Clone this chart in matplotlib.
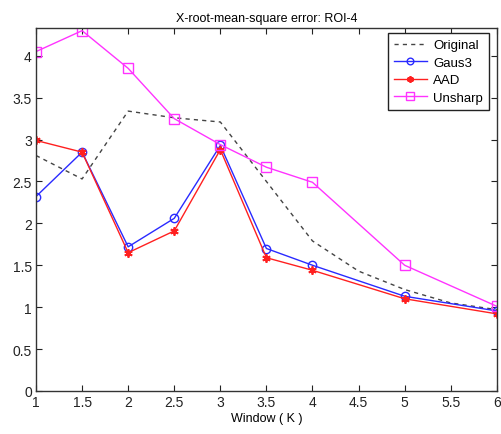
import numpy as np
import matplotlib.pyplot as plt

plt.rcParams['font.family'] = ['Liberation Sans', 'DejaVu Sans']

# 窓サイズ K
k_orig = [1, 1.5, 2, 2.5, 3, 3.5, 4, 4.5, 5, 5.5, 6]
k = [1, 1.5, 2, 2.5, 3, 3.5, 4, 5, 6]

original = [2.81, 2.53, 3.34, 3.26, 3.21, 2.50, 1.79, 1.43, 1.21, 1.05, 0.97]
gaus3 = [2.32, 2.85, 1.72, 2.06, 2.93, 1.70, 1.50, 1.13, 0.955]
aad = [2.99, 2.85, 1.65, 1.91, 2.88, 1.59, 1.44, 1.10, 0.92]
unsharp = [4.05, 4.30, 3.85, 3.25, 2.94, 2.67, 2.49, 1.50, 1.01]

fig = plt.figure(figsize=(5.02, 4.35), dpi=100)
ax = fig.add_axes([0.0717, 0.099, 0.918, 0.834])

ax.plot(k_orig, original, color='#444444', linestyle=(0, (3, 3)), lw=1, label='Original')
ax.plot(k, gaus3, color='#2a2aff', lw=1, marker='o', ms=6, mfc='none', mew=1, label='Gaus3')
ax.plot(k, aad, color='#ff2020', lw=1, marker=(6, 2, 0), ms=6, mew=1.3, label='AAD')
ax.plot(k, unsharp, color='#ff33ff', lw=1, marker='s', ms=6.5, mfc='none', mew=1, label='Unsharp')

ax.set_xlim(1, 6)
ax.set_ylim(0, 4.33)
ax.set_xticks(np.arange(1, 6.01, 0.5))
ax.set_xticklabels(['1', '1.5', '2', '2.5', '3', '3.5', '4', '4.5', '5', '5.5', '6'])
ax.set_yticks(np.arange(0, 4.01, 0.5))
ax.set_yticklabels(['0', '0.5', '1', '1.5', '2', '2.5', '3', '3.5', '4'])
ax.tick_params(direction='in', top=True, right=True, labelsize=10, length=4, width=0.8, pad=3, colors='#222222')
for s in ax.spines.values():
    s.set_color('#333333')
    s.set_linewidth(1)

ax.set_title('X-root-mean-square error: ROI-4', fontsize=9, pad=5)
ax.set_xlabel('Window ( K )', fontsize=9, labelpad=2)

leg = ax.legend(loc='upper right', bbox_to_anchor=(0.983, 0.986), borderaxespad=0, fontsize=9.5,
                fancybox=False, framealpha=1, edgecolor='#222222', handlelength=2.5, borderpad=0.45,
                labelspacing=0.4, handletextpad=0.5, markerscale=0.8)
leg.get_frame().set_linewidth(1)

plt.savefig('out.png', dpi=100)
